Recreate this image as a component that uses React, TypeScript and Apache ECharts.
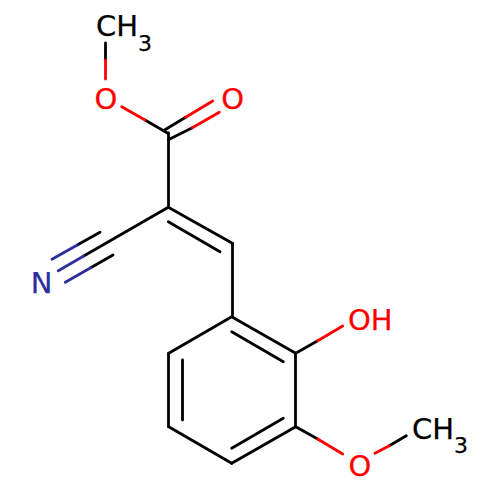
import React, { useEffect, useRef } from "react";
import * as echarts from "echarts";

// Bond strokes in picture units: [x1, y1, x2, y2]
const blackBonds = [
  [105.7, 43, 105.7, 60],
  [145, 120, 168.3, 133.5],
  [163.3, 130.7, 185.7, 117.3],
  [168.3, 139.8, 192.3, 127.7],
  [168.3, 133, 168.3, 207.3],
  [168.3, 207.3, 232.3, 243.3],
  [168.3, 221.7, 220, 251.7],
  [232.3, 243.3, 232.3, 316.7],
  [168.3, 207.3, 83.3, 256.3],
  [100, 232.3, 77.3, 245],
  [113, 255, 90.7, 267.7],
  [231.7, 316.7, 295.7, 353.3],
  [295.7, 353.3, 295.7, 426.7],
  [295.7, 426.7, 231.7, 463.3],
  [231.7, 463.3, 168.7, 426.7],
  [168.7, 426.7, 168.7, 353.3],
  [168.7, 353.3, 231.7, 316.7],
  [231.7, 331.7, 283.3, 361.7],
  [283.3, 418.3, 231.7, 448.3],
  [182, 360, 182, 420],
  [295.7, 353.3, 317.7, 340.7],
  [295.7, 426.7, 317.7, 439],
  [389.3, 445.7, 406.3, 435.7],
];
const redBonds = [
  [105.7, 60, 105.7, 79],
  [121.7, 106.7, 145, 120],
  [185.7, 117.3, 212.7, 101],
  [192.3, 127.7, 219.3, 112.3],
  [317.7, 340.7, 342.7, 326],
  [317.7, 439, 342.7, 454],
  [375, 453.3, 389.3, 445.7],
];
const navyBonds = [
  [83.3, 256.3, 58.3, 270.7],
  [77.3, 245, 52, 259.3],
  [90.7, 267.7, 65.3, 282.3],
];

// Atom labels: [x, y, text]
const leftAlignedBlack = [
  [96, 26, "{a|CH}{b|3}"],
  [412, 428.5, "{a|CH}{b|3}"],
];
const centeredRed = [
  [106, 99, "O"],
  [232.7, 99, "O"],
  [360, 465.5, "O"],
];
const leftAlignedRed = [[348, 320, "OH"]];
const centeredNavy = [[41.5, 283, "N"]];

const BLACK = "#000000";
const RED = "#FF0000";
const NAVY = "#2E2E9E";
const FONT = "'DejaVu Sans'";

const bondSeries = (rows: number[][], color: string) => ({
  type: "lines",
  coordinateSystem: "cartesian2d",
  silent: true,
  lineStyle: { color, width: 2.8, opacity: 1, cap: "round", curveness: 0 },
  data: rows.map((r) => ({ coords: [[r[0], r[1]], [r[2], r[3]]] })),
});

const labelSeries = (rows: any[][], color: string, align: string) => ({
  type: "scatter",
  symbol: "circle",
  symbolSize: 1,
  silent: true,
  itemStyle: { color: "rgba(0,0,0,0)" },
  label: {
    show: true,
    position: "inside",
    align,
    verticalAlign: "middle",
    color,
    fontFamily: FONT,
    fontSize: 29,
    textBorderColor: color,
    textBorderWidth: 0.25,
    opacity: 1,
    formatter: (p: any) => p.data[2],
    rich: {
      a: { color, fontFamily: FONT, fontSize: 29, lineHeight: 56, textBorderColor: color, textBorderWidth: 0.25 },
      b: { color, fontFamily: FONT, fontSize: 22, lineHeight: 32, verticalAlign: "bottom", textBorderColor: color, textBorderWidth: 0.25 },
    },
  },
  data: rows,
});

export default function App() {
  const ref = useRef<HTMLDivElement>(null);
  useEffect(() => {
    document.body.style.margin = "0";
    const chart = echarts.init(ref.current!, undefined, { renderer: "svg" });
    chart.setOption({
      animation: false,
      backgroundColor: "#FFFFFF",
      grid: { left: 0, right: 0, top: 0, bottom: 0 },
      xAxis: { type: "value", min: 0, max: 500, show: false },
      yAxis: { type: "value", min: 0, max: 500, inverse: true, show: false },
      series: [
        bondSeries(blackBonds, BLACK),
        bondSeries(redBonds, RED),
        bondSeries(navyBonds, NAVY),
        labelSeries(leftAlignedBlack, BLACK, "left"),
        labelSeries(centeredRed, RED, "center"),
        labelSeries(leftAlignedRed, RED, "left"),
        labelSeries(centeredNavy, NAVY, "center"),
      ],
    });
    return () => chart.dispose();
  }, []);
  return <div ref={ref} style={{ width: 500, height: 500 }} />;
}
